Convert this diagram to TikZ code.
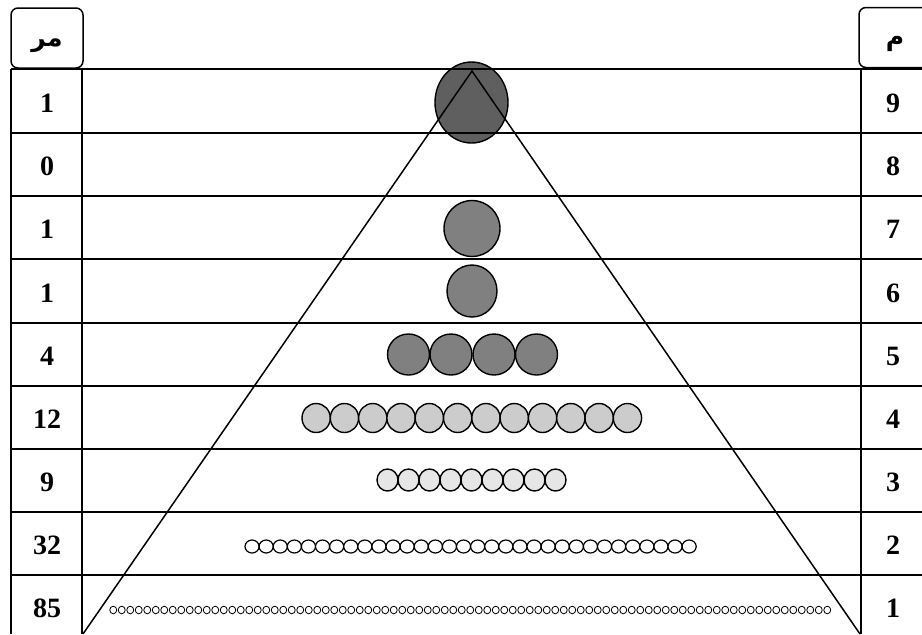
\documentclass[tikz,border=0pt]{standalone}
\usepackage{fontspec}
\setmainfont{Liberation Serif}
\newfontfamily\arabicfont[Script=Arabic]{DejaVu Sans}
\TeXXeTstate=1
\usetikzlibrary{positioning}
\definecolor{ink}{HTML}{000000}
\definecolor{top}{HTML}{5F5F5F}
\definecolor{mid}{HTML}{808080}
\definecolor{light}{HTML}{CCCCCC}
\definecolor{pale}{HTML}{E6E6E6}

\begin{document}
\begin{tikzpicture}[x=0.5pt,y=-0.5pt,
  num/.style={font=\bfseries\fontsize{14}{16}\selectfont,text=ink,inner sep=0pt},
  hdr/.style={draw=ink,line width=0.75pt,rounded corners=3.5pt,minimum width=36pt,minimum height=30pt,
    text height=6pt,text depth=6pt,font=\arabicfont\bfseries\fontsize{12.5}{14}\selectfont},
  rowline/.style={draw=ink,line width=1pt},
  ball/.style={draw=ink,line width=0.7pt}]
\useasboundingbox (0,0) rectangle (922,634);
% counts of each level
\filldraw[ball,fill=top] (471.5,102.5) ellipse [x radius=36.5,y radius=40.5];
\filldraw[ball,fill=mid] (472,228.5) ellipse [x radius=28,y radius=28];
\filldraw[ball,fill=mid] (472,291) ellipse [x radius=25,y radius=26];
\foreach \cx in {408.5,451,494,536.5}
  \filldraw[ball,fill=mid] (\cx,354.5) ellipse [x radius=21,y radius=20.5];
\foreach \i in {0,...,11}
  \filldraw[ball,fill=light] (316.15+28.3*\i,418) ellipse [x radius=14.15,y radius=14.5];
\foreach \i in {0,...,8}
  \filldraw[ball,fill=pale] (387.5+21*\i,480) ellipse [x radius=10.5,y radius=11];
\foreach \i in {0,...,31}
  \filldraw[ball,line width=0.6pt,fill=white] (252.05+14.1*\i,546.5) ellipse [x radius=7.05,y radius=6.5];
\foreach \i in {0,...,84}
  \draw[ball,line width=0.4pt] (113.25+8.5*\i,610) ellipse [x radius=3.5,y radius=3.8];
% table
\foreach \y in {69,133,196,259,323,386,449,512,575}
  \draw[rowline] (11,\y) -- (922,\y);
\draw[rowline] (11,69) -- (11,634);
\draw[rowline] (82,69) -- (82,634);
\draw[rowline] (861,69) -- (861,634);
% pyramid
\draw[ink,line width=0.75pt] (83,634) -- (472,71) -- (860,634);
% headers
\node[hdr] (hmr) at (47,38) {\raisebox{-4pt}{\beginR مر\endR}};
\node[hdr] (hm) at (895,37.5) {\raisebox{-4pt}{\beginR م\endR}};
% level numbers
\node[num] (l9) at (47,103) {1};
\node[num] (l8) at (47,166.5) {0};
\node[num] (l7) at (47,229.5) {1};
\node[num] (l6) at (47,293) {1};
\node[num] (l5) at (47,356.5) {4};
\node[num] (l4) at (47,419.5) {12};
\node[num] (l3) at (47,482.5) {9};
\node[num] (l2) at (47,545.5) {32};
\node[num] (l1) at (47,608.5) {85};
\node[num] (r9) at (893,103) {9};
\node[num] (r8) at (893,166.5) {8};
\node[num] (r7) at (893,229.5) {7};
\node[num] (r6) at (893,293) {6};
\node[num] (r5) at (893,356.5) {5};
\node[num] (r4) at (893,419.5) {4};
\node[num] (r3) at (893,482.5) {3};
\node[num] (r2) at (893,545.5) {2};
\node[num] (r1) at (893,608.5) {1};
\end{tikzpicture}
\end{document}
